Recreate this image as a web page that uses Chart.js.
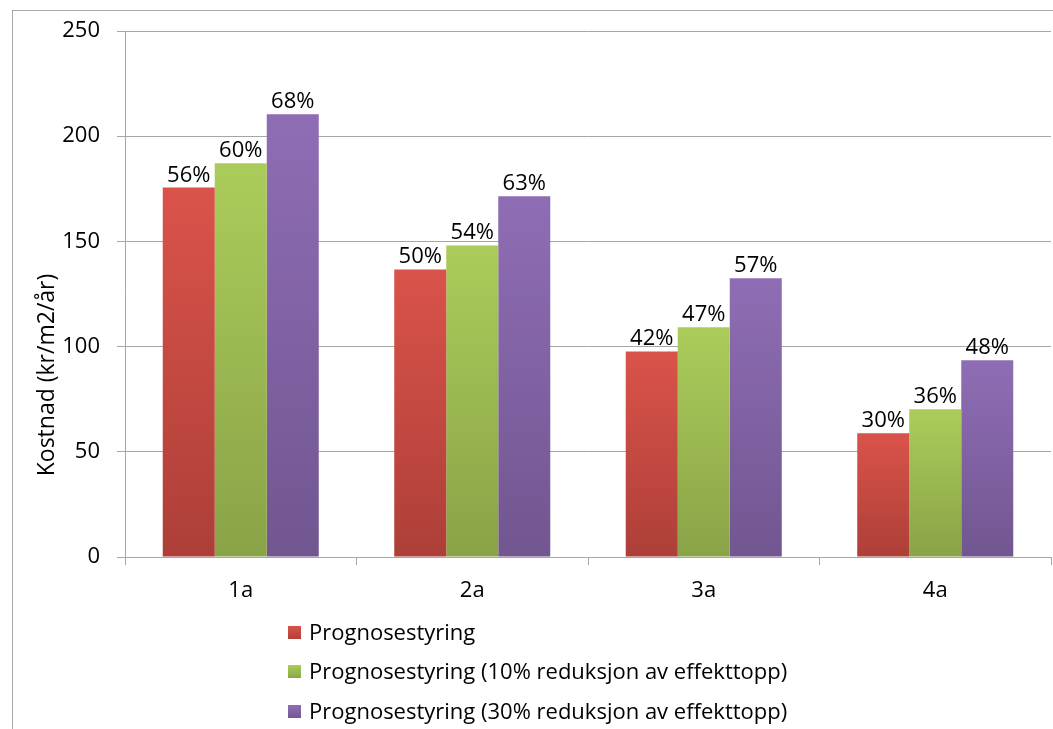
<!DOCTYPE html>
<html>
<head>
<meta charset="utf-8">
<script src="https://cdn.jsdelivr.net/npm/chart.js@4.4.1/dist/chart.umd.min.js"></script>
<style>
  html, body { margin: 0; padding: 0; background: #ffffff; }
  canvas { display: block; }
</style>
</head>
<body>
<canvas id="c" width="1053" height="729"></canvas>
<script>
// Categories and series
const categories = ['1a', '2a', '3a', '4a'];
const seriesNames = [
  'Prognosestyring',
  'Prognosestyring (10% reduksjon av effekttopp)',
  'Prognosestyring (30% reduksjon av effekttopp)'
];
const costBase = [175.6, 136.7, 97.7, 58.8];
const cost10 = [187.1, 148.1, 109.2, 70.2];
const cost30 = [210.4, 171.5, 132.5, 93.5];
const pctBase = ['56%', '50%', '42%', '30%'];
const pct10 = ['60%', '54%', '47%', '36%'];
const pct30 = ['68%', '63%', '57%', '48%'];
const yTicks = [0, 50, 100, 150, 200, 250];
const yTitle = 'Kostnad (kr/m2/år)';

// Light (top) and dark (bottom) shades per series
const shades = [
  ['#da534a', '#ad3f38'],
  ['#abcc5a', '#89a347'],
  ['#8f6db5', '#715690']
];

const FONT = '"Open Sans", "DejaVu Sans", sans-serif';
const TEXT_SIZE = 22;

function barGradient(ctx, top, bottom, pair) {
  const g = ctx.createLinearGradient(0, top, 0, bottom);
  g.addColorStop(0, pair[0]);
  g.addColorStop(1, pair[1]);
  return g;
}

function scriptedFill(index) {
  return function (context) {
    const chart = context.chart;
    const yScale = chart.scales && chart.scales.y;
    if (!yScale || typeof context.raw !== 'number') return shades[index][0];
    const top = yScale.getPixelForValue(context.raw);
    const bottom = yScale.getPixelForValue(0);
    if (!isFinite(top) || !isFinite(bottom) || top === bottom) return shades[index][0];
    return barGradient(chart.ctx, top, bottom, shades[index]);
  };
}

// Frame around the whole figure
const framePlugin = {
  id: 'frame',
  beforeDraw(chart) {
    const ctx = chart.ctx;
    ctx.save();
    ctx.strokeStyle = '#a9a9a9';
    ctx.lineWidth = 1;
    ctx.strokeRect(12.5, 10.5, chart.width + 20, chart.height + 20);
    ctx.restore();
  }
};

// Rotated value-axis title
const axisTitlePlugin = {
  id: 'axisTitle',
  afterDraw(chart) {
    const ctx = chart.ctx;
    ctx.save();
    ctx.translate(47, 375);
    ctx.rotate(-Math.PI / 2);
    ctx.font = '23px ' + FONT;
    ctx.fillStyle = '#000000';
    ctx.textAlign = 'center';
    ctx.textBaseline = 'middle';
    ctx.fillText(yTitle, 0, 0);
    ctx.restore();
  }
};

// Percentage labels above each bar
const valueLabelPlugin = {
  id: 'valueLabels',
  afterDatasetsDraw(chart) {
    const ctx = chart.ctx;
    ctx.save();
    ctx.font = TEXT_SIZE + 'px ' + FONT;
    ctx.fillStyle = '#000000';
    ctx.textAlign = 'center';
    ctx.textBaseline = 'alphabetic';
    chart.data.datasets.forEach((ds, i) => {
      const meta = chart.getDatasetMeta(i);
      meta.data.forEach((bar, j) => {
        ctx.fillText(ds.pctLabels[j], bar.x, bar.y - 6);
      });
    });
    ctx.restore();
  }
};

// Vertical legend under the axis
const legendPlugin = {
  id: 'stackedLegend',
  afterDraw(chart) {
    const ctx = chart.ctx;
    const rows = [633, 672, 712];
    ctx.save();
    ctx.font = TEXT_SIZE + 'px ' + FONT;
    ctx.textAlign = 'left';
    ctx.textBaseline = 'middle';
    chart.data.datasets.forEach((ds, i) => {
      const cy = rows[i];
      ctx.fillStyle = barGradient(ctx, cy - 7, cy + 7, shades[i]);
      ctx.fillRect(288, cy - 7, 13, 13);
      ctx.fillStyle = '#000000';
      ctx.fillText(ds.label, 309, cy + 1);
    });
    ctx.restore();
  }
};

const datasets = [
  { label: seriesNames[0], data: costBase, pctLabels: pctBase, backgroundColor: scriptedFill(0) },
  { label: seriesNames[1], data: cost10, pctLabels: pct10, backgroundColor: scriptedFill(1) },
  { label: seriesNames[2], data: cost30, pctLabels: pct30, backgroundColor: scriptedFill(2) }
];

new Chart(document.getElementById('c'), {
  type: 'bar',
  data: { labels: categories, datasets: datasets },
  options: {
    responsive: false,
    animation: false,
    layout: { padding: { top: 31, right: 2, left: 0, bottom: 0 } },
    datasets: { bar: { categoryPercentage: 0.674, barPercentage: 1.0, borderWidth: 0 } },
    plugins: { legend: { display: false }, tooltip: { enabled: false } },
    scales: {
      x: {
        offset: true,
        grid: { offset: true, drawOnChartArea: false, drawTicks: true, tickLength: 8, color: '#a6a6a6' },
        border: { display: true, color: '#a6a6a6' },
        ticks: { font: { family: FONT, size: TEXT_SIZE }, color: '#000000', padding: 13 },
        afterFit(scale) { scale.height = 172; }
      },
      y: {
        min: 0,
        max: 250,
        afterBuildTicks(scale) { scale.ticks = yTicks.map(v => ({ value: v })); },
        grid: { color: '#a6a6a6', tickLength: 8 },
        border: { display: true, color: '#a6a6a6' },
        ticks: { font: { family: FONT, size: TEXT_SIZE }, color: '#000000', padding: 17 },
        afterFit(scale) { scale.width = 125; }
      }
    }
  },
  plugins: [framePlugin, axisTitlePlugin, valueLabelPlugin, legendPlugin]
});
</script>
</body>
</html>
